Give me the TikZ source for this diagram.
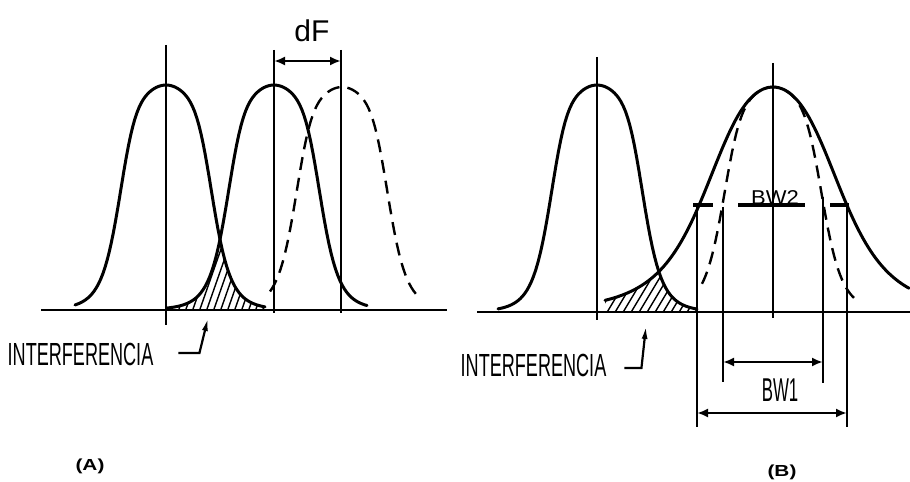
\documentclass[tikz,border=0pt]{standalone}
\usepackage{fontspec}
\setsansfont{Liberation Sans}
\usetikzlibrary{arrows.meta}

\begin{document}
\begin{tikzpicture}[
  x=1bp, y=-1bp,
  font=\sffamily,
  declare function={
    bellN(\t)=1/(1+(\t/94)*(\t/94)+(\t/48.7)*(\t/48.7)*(\t/48.7)*(\t/48.7)*(\t/48.7)*(\t/48.7));
    bellD(\t)=1/(1+(\t/100)*(\t/100)+(\t/52)*(\t/52)*(\t/52)*(\t/52)*(\t/52)*(\t/52));
    bellW(\t)=1/(1+(\t/102.5)*(\t/102.5)+(\t/84.5)*(\t/84.5)*(\t/84.5)*(\t/84.5));
  },
  % Estilos de curvas
  curve/.style={line width=3bp, line cap=round},
  dashcurve/.style={line width=2.4bp, dash pattern=on 13bp off 8bp},
  axisline/.style={line width=2.8bp},
  guide/.style={line width=1.2bp},
  hatch/.style={line width=1.4bp},
  % Estilos de cotas
  dimline/.style={line width=1.8bp},
  bwdash/.style={line width=3.4bp},
  dimarrow/.style={{Latex[length=11bp,width=9bp]}-{Latex[length=11bp,width=9bp]}, line width=2.4bp},
  leader/.style={-{Latex[length=13bp,width=6bp]}, line width=2.2bp},
  % Estilos de textos
  intlabel/.style={inner sep=0pt, xscale=0.565, font=\sffamily\fontsize{32bp}{32bp}\selectfont},
  caplabel/.style={inner sep=0pt, xscale=1.3, font=\sffamily\bfseries\fontsize{16bp}{16bp}\selectfont}
]
  \path[use as bounding box, fill=white] (0,0) rectangle (910,482);

  % ==========================================
  % (A) ADJACENT CHANNELS
  % ==========================================
  \draw[axisline] (41,310) -- (447,310);
  \draw[guide] (166,45) -- (166,325);
  \draw[guide] (274,50) -- (274,313);
  \draw[guide] (341,50) -- (341,313);

  % --- overlap ---
  \begin{scope}
    \clip (166,310) -- plot[domain=166:266, samples=40] (\x,{310-225*bellN(\x-166)}) -- (266,310) -- cycle;
    \clip (167,310) -- plot[domain=167:366, samples=60] (\x,{310-225*bellN(\x-274)}) -- (366,310) -- cycle;
    \foreach \h in {150,157,...,280}
      \draw[hatch] (\h,312) -- ++(28,-80);
  \end{scope}

  \draw[curve] plot[domain=75:265, samples=90] (\x,{310-225*bellN(\x-166)});
  \draw[curve] plot[domain=167:367, samples=90] (\x,{310-225*bellN(\x-274)});
  \draw[dashcurve] plot[domain=270:418, samples=70] (\x,{310-223*bellN(\x-342)});

  % --- dF ---
  \coordinate (dfL) at (274,61);
  \coordinate (dfR) at (341,61);
  \draw[dimarrow] (dfL) -- (dfR);
  \node[inner sep=0pt, font=\sffamily\fontsize{30bp}{30bp}\selectfont] (dF) at (312,31) {dF};

  % --- labels ---
  \node[intlabel] (intA) at (80.5,354) {INTERFERENCIA};
  \coordinate (hatchA) at (208,318);
  \draw[leader] ([xshift=25bp, yshift=1bp]intA.east) -- ++(21,0) -- (hatchA);
  \node[caplabel] (capA) at (90,466) {(A)};

  % ==========================================
  % (B) WIDER CHANNEL
  % ==========================================
  \draw[axisline] (477,312) -- (910,312);
  \draw[guide] (597,57) -- (597,320);
  \draw[guide, line width=1.6bp] (773,63) -- (773,318);

  % --- overlap ---
  \begin{scope}
    \clip (597,312) -- plot[domain=597:697, samples=40] (\x,{312-227*bellN(\x-597)}) -- (697,312) -- cycle;
    \clip (605,312) -- plot[domain=605:773, samples=60] (\x,{312-225*bellW(\x-773)}) -- (773,312) -- cycle;
    \foreach \h in {590,598,...,700}
      \draw[hatch] (\h,314) -- ++(30,-50);
  \end{scope}

  \draw[curve] plot[domain=498:697, samples=90] (\x,{312-227*bellN(\x-597)});
  \draw[curve] plot[domain=605:909, samples=120] (\x,{312-225*bellW(\x-773)});
  \draw[dashcurve] plot[domain=702:860, samples=80] (\x,{312-225*bellD(\x-773)});

  % --- BW1 / BW2 ---
  \node[inner sep=0pt, xscale=1.1, font=\sffamily\fontsize{20bp}{20bp}\selectfont] (bw2) at (775,198) {BW2};
  \draw[bwdash] (693,205) -- (713,205) (738,205) -- (805,205) (830,205) -- (849,205);
  \draw[dimline] (697,205) -- (697,427);
  \draw[dimline] (847,205) -- (847,427);
  \draw[dimline] (723,207) -- (723,382);
  \draw[dimline] (823,197) -- (823,383);
  \coordinate (bwiL) at (723,362);
  \coordinate (bwiR) at (823,362);
  \coordinate (bwoL) at (697,413);
  \coordinate (bwoR) at (847,413);
  \draw[dimarrow] (bwiL) -- (bwiR);
  \draw[dimarrow] (bwoL) -- (bwoR);
  \node[inner sep=0pt, xscale=0.51, font=\sffamily\fontsize{33bp}{33bp}\selectfont] (bw1) at (780,390) {BW1};

  % --- labels ---
  \node[intlabel] (intB) at (533.5,365) {INTERFERENCIA};
  \coordinate (hatchB) at (646,326);
  \draw[leader] ([xshift=18bp, yshift=-3bp]intB.east) -- ++(17,0) -- (hatchB);
  \node[caplabel] (capB) at (782,472) {(B)};

\end{tikzpicture}
\end{document}
